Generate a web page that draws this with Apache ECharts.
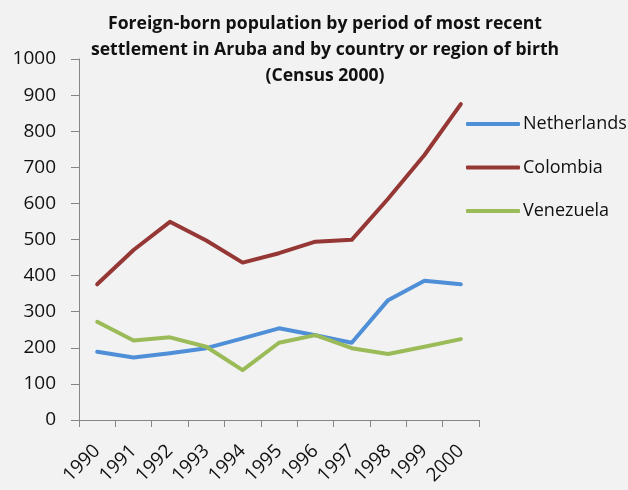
<!DOCTYPE html>
<html>
<head>
<meta charset="utf-8">
<script src="https://cdn.jsdelivr.net/npm/echarts@6/dist/echarts.min.js"></script>
<style>
  html, body { margin: 0; padding: 0; background: #f2f2f2; }
  #chart { width: 628px; height: 490px; }
</style>
</head>
<body>
<div id="chart"></div>
<script>
const years = ["1990", "1991", "1992", "1993", "1994", "1995", "1996", "1997", "1998", "1999", "2000"];
const netherlands = [189, 173, 185, 199, 226, 254, 235, 214, 332, 386, 376];
const colombia = [376, 471, 549, 497, 436, 462, 494, 499, 613, 734, 875];
const venezuela = [272, 220, 229, 203, 138, 214, 235, 199, 183, 203, 224];

const font = "'Open Sans', sans-serif";

const chart = echarts.init(document.getElementById("chart"));

function line(name, color, data) {
  return {
    name: name,
    type: "line",
    data: data,
    symbol: "none",
    color: color,
    lineStyle: { width: 4, color: color, cap: "round", join: "round" },
  };
}

chart.setOption({
  backgroundColor: "#f2f2f2",
  animation: false,
  title: {
    text: "Foreign-born population by period of most recent\nsettlement in Aruba and by country or region of birth\n(Census 2000)",
    left: 320,
    top: 6,
    textAlign: "center",
    textStyle: {
      fontFamily: font,
      fontSize: 17.6,
      fontWeight: "bold",
      color: "#111",
      lineHeight: 26,
    },
  },
  legend: {
    orient: "vertical",
    left: 461,
    top: 110,
    itemWidth: 54,
    itemHeight: 4,
    itemGap: 25.5,
    icon: "roundRect",
    textStyle: { fontFamily: font, fontSize: 18, color: "#111", padding: [0, 0, 0, -2] },
    data: ["Netherlands", "Colombia", "Venezuela"],
  },
  grid: { left: 79, right: 149, top: 59, bottom: 70 },
  xAxis: {
    type: "category",
    data: years,
    boundaryGap: true,
    axisLine: { lineStyle: { color: "#868686", width: 1 } },
    axisTick: { show: true, length: 7, alignWithLabel: false, lineStyle: { color: "#868686" } },
    axisLabel: {
      rotate: 45,
      interval: 0,
      margin: 28,
      fontFamily: font,
      fontSize: 19,
      color: "#111",
    },
  },
  yAxis: {
    type: "value",
    min: 0,
    max: 1000,
    interval: 100,
    splitLine: { show: false },
    axisLine: { show: true, lineStyle: { color: "#868686", width: 1 } },
    axisTick: { show: true, length: 8, lineStyle: { color: "#868686" } },
    axisLabel: { fontFamily: font, fontSize: 19, color: "#111", margin: 23, formatter: (v) => String(v) },
  },
  series: [
    line("Netherlands", "#4f8fd8", netherlands),
    line("Colombia", "#953735", colombia),
    line("Venezuela", "#9bbb59", venezuela),
  ],
});
</script>
</body>
</html>
